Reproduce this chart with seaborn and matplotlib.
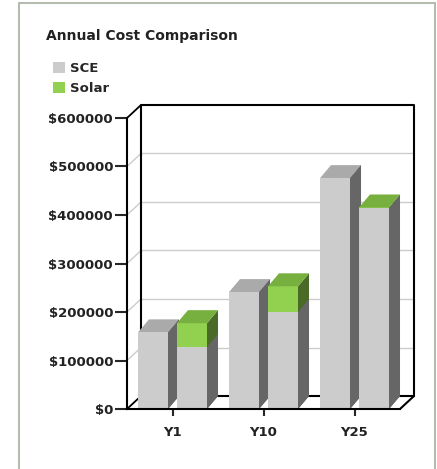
import numpy as np
import pandas as pd
import matplotlib.pyplot as plt
import matplotlib.transforms as mtransforms
from matplotlib.patches import Polygon, Patch, Rectangle
import seaborn as sns

# Dados
anos = ['Y1', 'Y10', 'Y25']
custo_sce = [158000, 241000, 476000]
sce_com_solar = [128000, 200000, 414000]
custo_solar = [49000, 53000, 1500]
yticks = [0, 100000, 200000, 300000, 400000, 500000, 600000]

# Cores
CINZA, CINZA_TOPO, CINZA_LADO = '#cccccc', '#aaaaaa', '#666666'
VERDE, VERDE_TOPO, VERDE_LADO = '#92d050', '#78b040', '#4a6a28'
BORDA = '#b4bcb0'
DX, DY = 14, 13      # profundidade da parede (px)
BX, BY = 11, 13      # profundidade das barras (px)

sns.set_style('white')
plt.rcParams['font.family'] = ['DejaVu Sans']

W, H = 437, 469
fig = plt.figure(figsize=(W / 100, H / 100), dpi=100)
ax = fig.add_axes([127 / W, 1 - 409 / H, (400 - 127) / W, (409 - 118) / H])

df = pd.DataFrame({
    'Ano': anos * 2,
    'Serie': ['SCE'] * 3 + ['Solar'] * 3,
    'Total': custo_sce + [a + b for a, b in zip(sce_com_solar, custo_solar)],
    'Base': custo_sce + sce_com_solar,
})

# barras totais (SCE cinza, Solar verde) e base cinza por cima
sns.barplot(data=df, x='Ano', y='Total', hue='Serie', order=anos,
            palette={'SCE': CINZA, 'Solar': VERDE}, width=0.857, gap=0.23,
            saturation=1, linewidth=0, legend=False, ax=ax)
sns.barplot(data=df, x='Ano', y='Base', hue='Serie', order=anos,
            palette={'SCE': CINZA, 'Solar': CINZA}, width=0.857, gap=0.23,
            saturation=1, linewidth=0, legend=False, ax=ax)

ax.set_xlim(-0.5, 2.5)
ax.set_ylim(0, 600000)
ax.set_xlabel('')
ax.set_ylabel('')
ax.set_yticks(yticks)
ax.set_yticklabels([f'${v}' for v in yticks])
ax.tick_params(axis='y', length=8.5, width=1.5, pad=1.5, labelsize=9.5, left=True)
ax.tick_params(axis='x', length=5, width=1.5, pad=7, labelsize=9.5, bottom=True)
for lbl in ax.get_xticklabels() + ax.get_yticklabels():
    lbl.set_fontweight('bold')
    lbl.set_color('#222222')
ax.grid(False)
ax.set_facecolor('none')
for s in ['top', 'right']:
    ax.spines[s].set_visible(False)
for s in ['left', 'bottom']:
    ax.spines[s].set_color('black')
    ax.spines[s].set_linewidth(1.5)
    ax.spines[s].set_zorder(6)

# parede do fundo e piso (deslocados em pixels)
tr_fundo = ax.transData + mtransforms.ScaledTranslation(DX / 100, DY / 100, fig.dpi_scale_trans)
for v in yticks[1:-1]:
    ax.plot([-0.5, 2.5], [v, v], color='#cccccc', lw=1, transform=tr_fundo, zorder=0.5, clip_on=False)
ident = mtransforms.IdentityTransform()


def px(x, y):
    return ax.transData.transform((x, y))


for v in yticks:
    x0, y0 = px(-0.5, v)
    cor = 'black' if v in (0, 600000) else '#cccccc'
    ax.plot([x0, x0 + DX], [y0, y0 + DY], color=cor, lw=1 if cor != 'black' else 1.3,
            transform=ident, zorder=0.6, clip_on=False)
ax.plot([-0.5, -0.5, 2.5, 2.5], [0, 600000, 600000, 0], color='black', lw=1.5,
        transform=tr_fundo, zorder=0.7, clip_on=False)
ax.plot([-0.5, 2.5], [0, 0], color='black', lw=1.5, transform=tr_fundo, zorder=0.7, clip_on=False)
x1, y1 = px(2.5, 0)
ax.plot([x1, x1 + DX], [y1, y1 + DY], color='black', lw=1.5, transform=ident, zorder=6, clip_on=False)

# faces laterais e topo das barras
barras = ax.patches
n = len(anos)
for i, p in enumerate(list(barras)):
    grupo = (i // n) % 2
    camada = i // (2 * n)          # 0 = total, 1 = base
    p.set_zorder(2 + grupo + 0.1 * camada)
    x, w, h = p.get_x(), p.get_width(), p.get_height()
    (xl, yb), (xr, yt) = px(x, 0), px(x + w, h)
    verde = grupo == 1 and camada == 0
    lado = Polygon([(xr, yb), (xr + BX, yb + BY), (xr + BX, yt + BY), (xr, yt)],
                   closed=True, fc=VERDE_LADO if verde else CINZA_LADO, ec='none',
                   transform=ident, zorder=2 + grupo + 0.1 * camada, clip_on=False)
    ax.add_patch(lado)
    if camada == 0:
        topo = Polygon([(xl, yt), (xl + BX, yt + BY), (xr + BX, yt + BY), (xr, yt)],
                       closed=True, fc=VERDE_TOPO if verde else CINZA_TOPO, ec='none',
                       transform=ident, zorder=2 + grupo, clip_on=False)
        ax.add_patch(topo)

# título e legenda
fig.text(46 / W, 1 - 36 / H, 'Annual Cost Comparison', fontsize=10, fontweight='bold',
         color='#222222', va='center', ha='left')
fig.legend(handles=[Patch(fc=CINZA, ec='none', label='SCE'),
                    Patch(fc=VERDE, ec='none', label='Solar')],
           loc='upper left', bbox_to_anchor=(44 / W, 1 - 53 / H), frameon=False,
           prop={'size': 9.5, 'weight': 'bold'}, handlelength=0.9, handleheight=0.9,
           handletextpad=0.35, labelspacing=0.5, borderpad=0.2)

fig.add_artist(Rectangle((19 / W, -0.05), (435 - 19) / W, 1.05 - 3 / H, transform=fig.transFigure,
                         fill=False, ec=BORDA, lw=1.5))

fig.savefig('out.png', dpi=100, facecolor='white')
